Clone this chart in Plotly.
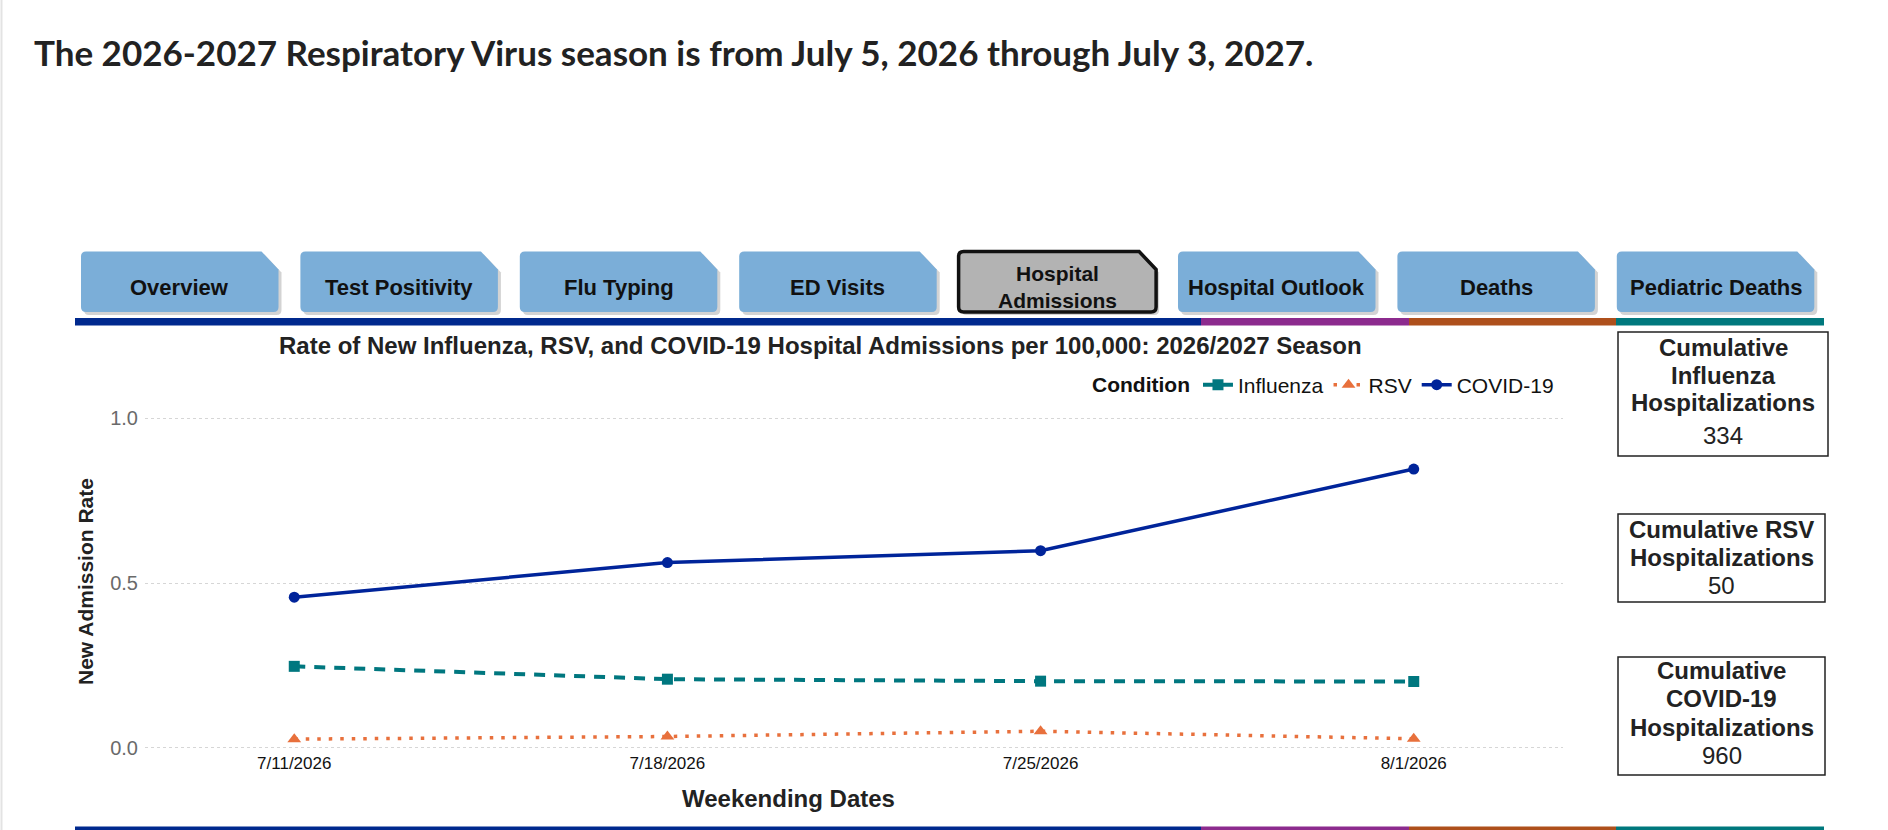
import plotly.graph_objects as go

# data
weeks = ['7/11/2026', '7/18/2026', '7/25/2026', '8/1/2026']
flu_rate = [0.247, 0.208, 0.202, 0.201]
rsv_rate = [0.026, 0.034, 0.050, 0.027]
covid_rate = [0.457, 0.562, 0.598, 0.846]

cum_titles = [['Cumulative', 'Influenza', 'Hospitalizations'],
              ['Cumulative RSV', 'Hospitalizations'],
              ['Cumulative', 'COVID-19', 'Hospitalizations']]
cum_values = [334, 50, 960]

tabs = ['Overview', 'Test Positivity', 'Flu Typing', 'ED Visits',
        'Hospital<br>Admissions', 'Hospital Outlook', 'Deaths', 'Pediatric Deaths']
active_tab = 4

page_title = 'The 2026-2027 Respiratory Virus season is from July 5, 2026 through July 3, 2027.'
chart_title = 'Rate of New Influenza, RSV, and COVID-19 Hospital Admissions per 100,000: 2026/2027 Season'

FW, FH = 1888, 830
L, R, T, B = 145, 1563, 415, 751
FONT = 'Liberation Sans, Arial, sans-serif'


def px(p):
    return (p - L) / (R - L)


def py(p):
    return (B - p) / (B - T)


fig = go.Figure()

fig.add_trace(go.Scatter(x=weeks, y=flu_rate, name='Influenza', mode='lines+markers',
                         line=dict(color='#00777F', width=4, dash='11px,9px'),
                         marker=dict(symbol='square', size=11, color='#00777F'),
                         cliponaxis=False))
fig.add_trace(go.Scatter(x=weeks, y=rsv_rate, name='RSV', mode='lines+markers',
                         line=dict(color='#E8703C', width=3.5, dash='3.5px,8px'),
                         marker=dict(symbol='triangle-up', size=12, color='#E8703C'),
                         cliponaxis=False))
fig.add_trace(go.Scatter(x=weeks, y=covid_rate, name='COVID-19', mode='lines+markers',
                         line=dict(color='#00249A', width=3.5),
                         marker=dict(symbol='circle', size=11, color='#00249A'),
                         cliponaxis=False))

shapes = []
annos = []

# thin page border on the left
shapes.append(dict(type='line', xref='paper', yref='paper', x0=px(1.5), x1=px(1.5),
                   y0=py(0), y1=py(FH), line=dict(color='#E3E3E3', width=2)))

annos.append(dict(text='<b>' + page_title + '</b>', xref='paper', yref='paper',
                  x=px(32), y=py(52), xanchor='left', yanchor='middle', showarrow=False,
                  font=dict(family='Lato, sans-serif', size=35, color='#222222')))


def tab_path(x0, x1, t, b, r=5, cx=17, cy=18):
    p = [('M', x0, b - r), ('L', x0, t + r), ('Q', x0, t, x0 + r, t), ('L', x1 - cx, t),
         ('L', x1, t + cy), ('L', x1, b - r), ('Q', x1, b, x1 - r, b), ('L', x0 + r, b),
         ('Q', x0, b, x0, b - r)]
    s = ''
    for seg in p:
        s += seg[0] + ' '
        vals = seg[1:]
        s += ' '.join('%.5f,%.5f' % (px(vals[k]), py(vals[k + 1])) for k in range(0, len(vals), 2)) + ' '
    return s + 'Z'


for i, name in enumerate(tabs):
    x0 = 81 + i * 219.4
    x1 = x0 + 197.5
    t, b = 251.5, 312
    shapes.append(dict(type='path', xref='paper', yref='paper',
                       path=tab_path(x0 + 3, x1 + 3, t + 3, b + 3),
                       fillcolor='#D3D3D3', line=dict(width=0)))
    if i == active_tab:
        shapes.append(dict(type='path', xref='paper', yref='paper',
                           path=tab_path(x0, x1, t, b),
                           fillcolor='#B3B3B3', line=dict(color='#111111', width=3.5)))
    else:
        shapes.append(dict(type='path', xref='paper', yref='paper',
                           path=tab_path(x0, x1, t, b),
                           fillcolor='#7BAED8', line=dict(width=0)))
    annos.append(dict(text='<b>' + name + '</b>', xref='paper', yref='paper',
                      x=px((x0 + x1) / 2), y=py(287), xanchor='center', yanchor='middle',
                      showarrow=False,
                      font=dict(family=FONT, size=22 if i != active_tab else 21, color='#111111')))

# coloured strips under the tabs and at the bottom
strip = [(75, 1201, '#00298E'), (1201, 1409, '#8C2B8E'), (1409, 1616, '#AE501C'), (1616, 1824, '#00787D')]
for y0, y1 in [(318, 325.5), (826.5, 834)]:
    for a, c, col in strip:
        shapes.append(dict(type='rect', xref='paper', yref='paper', x0=px(a), x1=px(c),
                           y0=py(y1), y1=py(y0), fillcolor=col, line=dict(width=0)))

annos.append(dict(text='<b>' + chart_title + '</b>', xref='paper', yref='paper',
                  x=px(820), y=py(345.5), xanchor='center', yanchor='middle', showarrow=False,
                  font=dict(family=FONT, size=24, color='#222222')))
annos.append(dict(text='<b>New Admission Rate</b>', xref='paper', yref='paper',
                  x=px(85), y=py(582), xanchor='center', yanchor='middle', showarrow=False,
                  textangle=-90, font=dict(family=FONT, size=21, color='#222222')))
annos.append(dict(text='<b>Weekending Dates</b>', xref='paper', yref='paper',
                  x=px(788), y=py(798), xanchor='center', yanchor='middle', showarrow=False,
                  font=dict(family=FONT, size=24, color='#222222')))

# cumulative boxes
boxes = [(1618, 1828, 332, 456, [347, 375, 403], 435),
         (1618, 1825, 514, 602, [529, 557], 585),
         (1618, 1825, 657, 775, [670, 698, 727], 755)]
for (x0, x1, y0, y1, lines_y, val_y), titles, val in zip(boxes, cum_titles, cum_values):
    shapes.append(dict(type='rect', xref='paper', yref='paper', x0=px(x0), x1=px(x1),
                       y0=py(y1), y1=py(y0), fillcolor='white',
                       line=dict(color='#222222', width=1.5)))
    cx = (x0 + x1) / 2
    for txt, ly in zip(titles, lines_y):
        annos.append(dict(text='<b>' + txt + '</b>', xref='paper', yref='paper',
                          x=px(cx), y=py(ly), xanchor='center', yanchor='middle', showarrow=False,
                          font=dict(family=FONT, size=24, color='#222222')))
    annos.append(dict(text=str(val), xref='paper', yref='paper',
                      x=px(cx), y=py(val_y), xanchor='center', yanchor='middle', showarrow=False,
                      font=dict(family=FONT, size=24, color='#222222')))

fig.update_layout(
    width=FW, height=FH,
    margin=dict(l=L, r=FW - R, t=T, b=FH - B),
    paper_bgcolor='white', plot_bgcolor='white',
    font=dict(family=FONT, color='#222222'),
    shapes=shapes, annotations=annos,
    showlegend=True,
    legend=dict(orientation='h', x=px(1559), y=py(385), xanchor='right', yanchor='middle',
                title=dict(text='<b>Condition</b>', font=dict(size=21, color='#111111')),
                font=dict(size=21, color='#111111'), bgcolor='rgba(0,0,0,0)',
                itemwidth=30, tracegroupgap=0),
    xaxis=dict(type='category', range=[-0.4, 3.4], showgrid=False, showline=False,
               zeroline=False, ticks='', tickfont=dict(size=17, color='#111111')),
    yaxis=dict(range=[-0.01, 1.01], tickvals=[0, 0.5, 1.0], ticktext=['0.0', '0.5', '1.0'],
               showgrid=True, gridcolor='#D6D6D6', griddash='dot', gridwidth=1,
               zeroline=False, showline=False, ticks='',
               tickfont=dict(size=20, color='#6A6A6A'), ticklabelstandoff=6),
)

fig.write_html("out.html", config={'displayModeBar': False},
               post_script="document.body.style.margin='0';document.body.style.overflow='hidden';")
